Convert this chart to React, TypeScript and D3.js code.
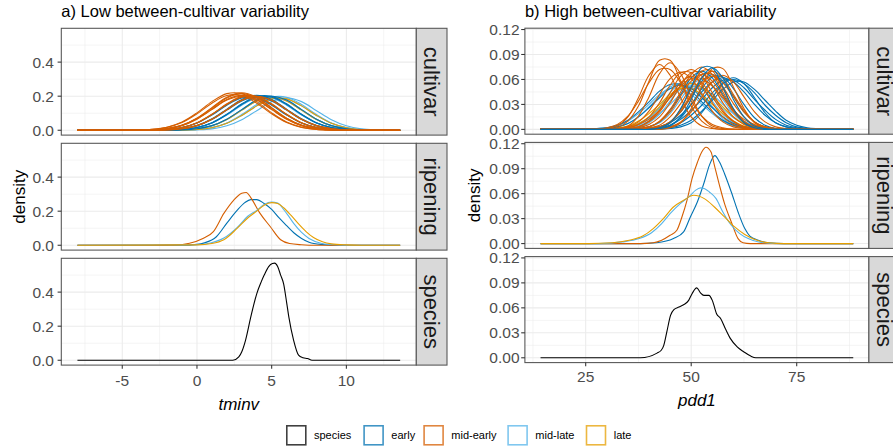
import React from "react";
import * as d3 from "d3";

const FONT = '"Liberation Sans", Arial, Helvetica, sans-serif';

// ---------- categories / labels ----------
const CLASSES = ["species", "early", "mid-early", "mid-late", "late"];
const CLASS_COLORS = ["#000000", "#0072B2", "#D55E00", "#56B4E9", "#E69F00"];
const STRIP_LABELS = ["cultivar", "ripening", "species"];
const PLOT_TITLES = ["a) Low between-cultivar variability", "b) High between-cultivar variability"];
const X_TITLES = ["tminv", "pdd1"];
const Y_TITLE = "density";
const LEFT_X_TICKS = [-5, 0, 5, 10];
const LEFT_Y_TICKS = [0, 0.2, 0.4];
const RIGHT_X_TICKS = [25, 50, 75];
const RIGHT_Y_TICKS = [0, 0.03, 0.06, 0.09, 0.12];

// ---------- a) tminv : cultivar densities (evaluated on LEFT_GRID) ----------
const LEFT_GRID = [-8, -4, -3, -2, -1, 0, 1, 2, 3, 4, 5, 6, 7, 8, 9, 10, 11, 12, 13.6];
const L_CV_MIDLATE = [
  [0, 0, 0, .001, .005, .016, .043, .092, .151, .194, .194, .151, .092, .043, .016, .005, .001, 0, 0],
  [0, 0, 0, 0, .002, .009, .026, .063, .118, .172, .195, .172, .118, .063, .026, .009, .002, 0, 0],
  [0, 0, 0, 0, .001, .004, .015, .041, .087, .143, .184, .184, .143, .087, .041, .015, .004, .001, 0],
  [0, 0, 0, 0, .002, .009, .027, .065, .121, .177, .2, .177, .121, .065, .027, .009, .002, 0, 0],
  [0, 0, 0, .001, .004, .016, .042, .089, .147, .189, .189, .147, .089, .042, .016, .004, .001, 0, 0],
  [0, 0, 0, 0, .001, .005, .016, .043, .092, .151, .194, .194, .151, .092, .043, .016, .005, .001, 0],
  [0, 0, 0, 0, 0, .002, .008, .026, .062, .115, .168, .19, .168, .115, .062, .026, .008, .002, 0],
  [0, 0, 0, .002, .009, .027, .065, .121, .177, .2, .177, .121, .065, .027, .009, .002, 0, 0, 0],
];
const L_CV_LATE = [
  [0, 0, 0, 0, .002, .009, .026, .063, .118, .172, .195, .172, .118, .063, .026, .009, .002, 0, 0],
  [0, 0, 0, 0, .001, .004, .015, .041, .087, .143, .184, .184, .143, .087, .041, .015, .004, .001, 0],
];
const L_CV_EARLY = [
  [0, 0, 0, .002, .009, .028, .067, .124, .181, .205, .181, .124, .067, .028, .009, .002, 0, 0, 0],
  [0, 0, 0, .001, .005, .016, .043, .092, .151, .194, .194, .151, .092, .043, .016, .005, .001, 0, 0],
  [0, 0, .001, .005, .016, .043, .092, .151, .194, .194, .151, .092, .043, .016, .005, .001, 0, 0, 0],
  [0, 0, 0, .002, .009, .026, .063, .118, .172, .195, .172, .118, .063, .026, .009, .002, 0, 0, 0],
  [0, 0, 0, 0, .002, .009, .027, .065, .121, .177, .2, .177, .121, .065, .027, .009, .002, 0, 0],
  [0, 0, 0, .001, .005, .016, .044, .094, .155, .199, .199, .155, .094, .044, .016, .005, .001, 0, 0],
  [0, 0, .001, .004, .016, .042, .089, .147, .189, .189, .147, .089, .042, .016, .004, .001, 0, 0, 0],
];
const L_CV_MIDEARLY = [
  [0, .001, .005, .018, .048, .102, .168, .215, .215, .168, .102, .048, .018, .005, .001, 0, 0, 0, 0],
  [0, 0, .002, .009, .029, .07, .13, .19, .215, .19, .13, .07, .029, .009, .002, 0, 0, 0, 0],
  [0, .001, .005, .017, .045, .096, .159, .204, .204, .159, .096, .045, .017, .005, .001, 0, 0, 0, 0],
  [0, 0, .002, .009, .028, .067, .124, .181, .205, .181, .124, .067, .028, .009, .002, 0, 0, 0, 0],
  [0, 0, .001, .005, .016, .043, .092, .151, .194, .194, .151, .092, .043, .016, .005, .001, 0, 0, 0],
  [0, 0, 0, .002, .009, .027, .064, .12, .175, .198, .175, .12, .064, .027, .009, .002, 0, 0, 0],
  [0, 0, .001, .005, .016, .044, .094, .155, .199, .199, .155, .094, .044, .016, .005, .001, 0, 0, 0],
  [0, 0, .002, .009, .027, .065, .121, .177, .2, .177, .121, .065, .027, .009, .002, 0, 0, 0, 0],
  [0, 0, .002, .01, .03, .071, .133, .194, .22, .194, .133, .071, .03, .01, .002, 0, 0, 0, 0],
  [0, 0, 0, .002, .009, .027, .065, .121, .177, .2, .177, .121, .065, .027, .009, .002, 0, 0, 0],
];

// ---------- a) ripening & species ----------
const L_RIP_EARLY_X = [-8, -1, 0, 0.5, 1.3, 2.0, 2.7, 3.2, 3.6, 4.0, 4.5, 5.0, 5.5, 6.0, 6.5, 7.0, 7.5, 8.3, 9.5, 13.6];
const L_RIP_EARLY_Y = [0, 0, .005, .014, .05, .13, .206, .25, .268, .268, .245, .21, .16, .115, .072, .04, .018, .005, 0, 0];
const L_RIP_MIDEARLY_X = [-8, -3, -1.5, -0.5, 0.4, 1.1, 1.8, 2.45, 3.0, 3.3, 3.6, 4.2, 4.9, 5.6, 6.2, 7, 8, 13.6];
const L_RIP_MIDEARLY_Y = [0, 0, .002, .012, .04, .08, .187, .264, .305, .31, .28, .19, .11, .032, .01, .003, 0, 0];
const L_RIP_MIDLATE_X = [-8, 0, 0.9, 1.8, 2.7, 3.4, 4.0, 4.5, 5.0, 5.4, 5.8, 6.1, 6.5, 7.0, 7.5, 8.3, 9, 10, 13.6];
const L_RIP_MIDLATE_Y = [0, .003, .013, .042, .105, .17, .205, .24, .254, .248, .21, .175, .125, .075, .04, .012, .004, 0, 0];
const L_RIP_LATE_X = [-8, 0, 1, 1.8, 2.7, 3.4, 4.0, 4.5, 5.0, 5.4, 5.8, 6.3, 6.8, 7.3, 7.8, 8.4, 9.0, 10, 11, 13.6];
const L_RIP_LATE_Y = [0, .002, .01, .032, .1, .16, .2, .235, .25, .245, .22, .175, .125, .08, .045, .02, .008, .002, 0, 0];
const L_SPECIES_X = [-8, 2.4, 2.8, 3.0, 3.25, 3.6, 4.0, 4.3, 4.5, 4.8, 5.05, 5.2, 5.4, 5.6, 5.8, 6.0, 6.15, 6.47, 6.8, 7.1, 7.4, 7.7, 13.6];
const L_SPECIES_Y = [0, 0, .02, .05, .117, .253, .39, .46, .5, .55, .568, .57, .55, .5, .448, .34, .253, .117, .03, .015, .01, 0, 0];

// ---------- b) pdd1 : cultivar densities (evaluated on RIGHT_GRID) ----------
const RIGHT_GRID = [14.3, 25, 27.5, 30, 32.5, 35, 37.5, 40, 42.5, 45, 47.5, 50, 52.5, 55, 57.5, 60, 62.5, 65, 67.5, 70, 72.5, 75, 77.5, 80, 88.4];
const R_CV_MIDLATE = [
  [0, 0, 0, .001, .003, .007, .015, .027, .04, .051, .055, .051, .04, .027, .015, .007, .003, .001, 0, 0, 0, 0, 0, 0, 0],
  [0, 0, 0, 0, .001, .003, .007, .014, .025, .038, .048, .052, .048, .038, .025, .014, .007, .003, .001, 0, 0, 0, 0, 0, 0],
  [0, 0, 0, 0, 0, .001, .005, .013, .027, .044, .056, .056, .044, .027, .013, .005, .001, 0, 0, 0, 0, 0, 0, 0, 0],
  [0, 0, 0, 0, .001, .002, .004, .01, .019, .03, .042, .049, .049, .042, .03, .019, .01, .004, .002, .001, 0, 0, 0, 0, 0],
  [0, 0, .001, .002, .004, .01, .019, .03, .042, .049, .049, .042, .03, .019, .01, .004, .002, .001, 0, 0, 0, 0, 0, 0, 0],
  [0, 0, 0, 0, 0, 0, .001, .003, .008, .019, .036, .053, .06, .053, .036, .019, .008, .003, .001, 0, 0, 0, 0, 0, 0],
  [0, 0, 0, 0, 0, .001, .002, .008, .018, .034, .049, .056, .049, .034, .018, .008, .002, .001, 0, 0, 0, 0, 0, 0, 0],
];
const R_CV_LATE = [
  [0, 0, 0, 0, .001, .003, .007, .015, .027, .04, .051, .055, .051, .04, .027, .015, .007, .003, .001, 0, 0, 0, 0, 0, 0],
  [0, 0, 0, .001, .002, .004, .01, .019, .03, .042, .049, .049, .042, .03, .019, .01, .004, .002, .001, 0, 0, 0, 0, 0, 0],
];
const R_CV_EARLY = [
  [0, 0, .001, .002, .005, .011, .021, .033, .046, .054, .054, .046, .033, .021, .011, .005, .002, .001, 0, 0, 0, 0, 0, 0, 0],
  [0, 0, 0, .001, .003, .007, .015, .026, .038, .049, .053, .049, .038, .026, .015, .007, .003, .001, 0, 0, 0, 0, 0, 0, 0],
  [0, 0, 0, 0, 0, 0, 0, .001, .003, .008, .017, .03, .045, .057, .062, .057, .045, .03, .017, .008, .003, .001, 0, 0, 0],
  [0, 0, 0, 0, 0, 0, 0, .001, .002, .005, .012, .023, .036, .05, .059, .059, .05, .036, .023, .012, .005, .002, .001, 0, 0],
  [0, 0, 0, 0, 0, 0, 0, 0, .001, .003, .008, .017, .029, .044, .055, .06, .055, .044, .029, .017, .008, .003, .001, 0, 0],
  [0, 0, 0, 0, 0, 0, 0, 0, .001, .002, .005, .011, .022, .035, .048, .057, .057, .048, .035, .022, .011, .005, .002, .001, 0],
  [0, 0, 0, 0, 0, 0, 0, 0, .001, .005, .014, .03, .049, .063, .063, .049, .03, .014, .005, .001, 0, 0, 0, 0, 0],
  [0, 0, 0, 0, 0, 0, .001, .003, .009, .023, .042, .062, .07, .062, .042, .023, .009, .003, .001, 0, 0, 0, 0, 0, 0],
  [0, 0, 0, 0, 0, 0, 0, .001, .003, .009, .021, .04, .058, .066, .058, .04, .021, .009, .003, .001, 0, 0, 0, 0, 0],
  [0, 0, 0, 0, 0, 0, 0, 0, 0, .001, .003, .008, .02, .038, .055, .062, .055, .038, .02, .008, .003, .001, 0, 0, 0],
];
const R_CV_MIDEARLY = [
  [0, 0, 0, 0, .002, .01, .028, .058, .083, .083, .058, .028, .01, .002, 0, 0, 0, 0, 0, 0, 0, 0, 0, 0, 0],
  [0, 0, 0, .001, .004, .015, .038, .065, .078, .065, .038, .015, .004, .001, 0, 0, 0, 0, 0, 0, 0, 0, 0, 0, 0],
  [0, 0, 0, 0, .001, .004, .016, .039, .067, .08, .067, .039, .016, .004, .001, 0, 0, 0, 0, 0, 0, 0, 0, 0, 0],
  [0, 0, 0, .002, .006, .016, .034, .056, .072, .072, .056, .034, .016, .006, .002, 0, 0, 0, 0, 0, 0, 0, 0, 0, 0],
  [0, 0, 0, 0, .001, .003, .009, .022, .042, .061, .069, .061, .042, .022, .009, .003, .001, 0, 0, 0, 0, 0, 0, 0, 0],
  [0, 0, 0, 0, 0, .001, .003, .01, .023, .044, .064, .072, .064, .044, .023, .01, .003, .001, 0, 0, 0, 0, 0, 0, 0],
  [0, 0, 0, 0, 0, 0, .002, .006, .015, .032, .053, .068, .068, .053, .032, .015, .006, .002, 0, 0, 0, 0, 0, 0, 0],
  [0, 0, 0, 0, 0, 0, .001, .003, .01, .024, .045, .066, .075, .066, .045, .024, .01, .003, .001, 0, 0, 0, 0, 0, 0],
  [0, 0, 0, 0, 0, 0, 0, .002, .005, .015, .031, .051, .066, .066, .051, .031, .015, .005, .002, 0, 0, 0, 0, 0, 0],
  [0, 0, 0, 0, 0, 0, 0, .001, .003, .009, .023, .042, .062, .07, .062, .042, .023, .009, .003, .001, 0, 0, 0, 0, 0],
  [0, 0, 0, 0, 0, 0, 0, 0, 0, .002, .008, .025, .051, .073, .073, .051, .025, .008, .002, 0, 0, 0, 0, 0, 0],
  [0, 0, 0, 0, 0, 0, 0, .001, .003, .009, .021, .039, .056, .064, .056, .039, .021, .009, .003, .001, 0, 0, 0, 0, 0],
  [0, 0, 0, 0, 0, 0, .001, .003, .009, .021, .04, .058, .066, .058, .04, .021, .009, .003, .001, 0, 0, 0, 0, 0, 0],
  [0, 0, 0, 0, 0, 0, 0, 0, .001, .003, .009, .021, .039, .057, .065, .057, .039, .021, .009, .003, .001, 0, 0, 0, 0],
  [0, 0, 0, 0, 0, .001, .003, .009, .021, .039, .056, .064, .056, .039, .021, .009, .003, .001, 0, 0, 0, 0, 0, 0, 0],
  [0, 0, 0, 0, 0, 0, 0, 0, .002, .008, .024, .049, .07, .07, .049, .024, .008, .002, 0, 0, 0, 0, 0, 0, 0],
  [0, 0, 0, 0, 0, .002, .006, .015, .032, .053, .068, .068, .053, .032, .015, .006, .002, 0, 0, 0, 0, 0, 0, 0, 0],
  [0, 0, 0, 0, .001, .002, .006, .012, .023, .038, .052, .061, .061, .052, .038, .023, .012, .006, .002, .001, 0, 0, 0, 0, 0],
];
const R_CV_EARLY_TOP = [
  [0, 0, 0, 0, 0, 0, 0, 0, .002, .008, .025, .051, .074, .074, .051, .025, .008, .002, 0, 0, 0, 0, 0, 0, 0],
  [0, 0, 0, 0, 0, 0, 0, 0, .001, .004, .015, .036, .062, .074, .062, .036, .015, .004, .001, 0, 0, 0, 0, 0, 0],
];

// ---------- b) ripening & species ----------
const R_RIP_EARLY_X = [14.3, 38, 41.8, 45.8, 48.2, 49.8, 51.45, 53.1, 54.3, 55.6, 56.7, 57.9, 59.5, 61.1, 62.7, 63.9, 65.9, 68.4, 72, 88.4];
const R_RIP_EARLY_Y = [0, 0, .001, .006, .014, .032, .05, .074, .094, .1057, .098, .084, .062, .038, .018, .009, .004, .001, 0, 0];
const R_RIP_MIDEARLY_X = [14.3, 38, 41, 43, 45, 46.6, 47.8, 49, 50.2, 51.5, 52.5, 53.5, 54.7, 55.5, 56.7, 57.9, 59.5, 61.1, 62.3, 64, 88.4];
const R_RIP_MIDEARLY_Y = [0, 0, .001, .004, .01, .016, .032, .052, .078, .098, .11, .1158, .11, .094, .07, .048, .026, .006, .001, 0, 0];
const R_RIP_MIDLATE_X = [14.3, 28, 33.7, 37.7, 40.6, 43, 45, 47.4, 49.8, 51, 52.25, 53.2, 54.3, 55.9, 57.5, 59.5, 61.5, 63.5, 66, 70, 88.4];
const R_RIP_MIDLATE_Y = [0, 0, .002, .006, .013, .024, .036, .048, .058, .064, .067, .066, .062, .054, .038, .022, .012, .006, .002, 0, 0];
const R_RIP_LATE_X = [14.3, 25.7, 31.3, 35.3, 38.5, 41, 43.4, 45.8, 48.2, 50.6, 53.1, 55.5, 57.9, 60.3, 62.7, 65.1, 68.4, 72, 88.4];
const R_RIP_LATE_Y = [0, 0, .001, .004, .009, .018, .03, .044, .052, .058, .054, .044, .032, .02, .011, .005, .001, 0, 0];
const R_SPECIES_X = [14.3, 38, 41.9, 42.9, 43.5, 44.3, 45.1, 45.9, 47.1, 48.3, 49.4, 50.2, 51.3, 52.2, 53.0, 54.2, 55.0, 56.0, 57.0, 58.1, 59.3, 60.9, 62.5, 64.1, 65.3, 88.4];
const R_SPECIES_Y = [0, 0, .0056, .009, .015, .033, .051, .058, .061, .064, .069, .077, .084, .078, .075, .075, .069, .053, .047, .035, .023, .013, .007, .002, 0, 0];

// ---------- helpers ----------
type Series = { x: number[]; y: number[]; color: string };
const colorOf = (c: string) => CLASS_COLORS[CLASSES.indexOf(c)];
const cv = (grid: number[], rows: number[][], cls: string): Series[] =>
  rows.map((y) => ({ x: grid, y, color: colorOf(cls) }));
const one = (x: number[], y: number[], cls: string): Series => ({ x, y, color: colorOf(cls) });

const GRID_COL = "#EBEBEB";
const DARK = "#333333";
const BORDER = "#555555";
const TICK_TXT = "#4D4D4D";

type ColProps = {
  x0: number; x1: number; tops: number[]; ph: number; stripW: number;
  panels: Series[][]; curves: any[];
  xTicks: number[]; yTicks: number[]; yDigits: number;
  title: string; xTitle: string;
  yLabelEnd: number; densityX: number; xLabelY: number; xTitleY: number;
};

function Column(p: ColProps) {
  const all = p.panels.flat();
  const [xmin, xmax] = d3.extent(all.flatMap((s) => s.x)) as [number, number];
  const ymax = d3.max(all.flatMap((s) => s.y)) as number;
  const xpad = (xmax - xmin) * 0.05;
  const xDom: [number, number] = [xmin - xpad, xmax + xpad];
  const x = d3.scaleLinear().domain(xDom).range([p.x0, p.x1]);
  const yDom: [number, number] = [-0.05 * ymax, 1.05 * ymax];
  const xs = p.xTicks[1] - p.xTicks[0];
  const xMinor = d3.range(p.xTicks[0] - xs * 10 - xs / 2, xDom[1], xs).filter((v) => v >= xDom[0] && v <= xDom[1]);
  const ys = p.yTicks[1] - p.yTicks[0];
  const yMinor = d3.range(p.yTicks[0] - ys / 2, yDom[1], ys).filter((v) => v >= yDom[0] && v <= yDom[1]);
  const fmt = d3.format(`.${p.yDigits}f`);
  const last = p.panels.length - 1;
  const midPanel = p.tops[1] + p.ph / 2;

  return (
    <g>
      <text x={p.x0} y={17} fontSize={16.5} fill="#000">{p.title}</text>
      {p.panels.map((series, pi) => {
        const top = p.tops[pi];
        const bot = top + p.ph;
        const y = d3.scaleLinear().domain(yDom).range([bot, top]);
        const line = d3.line<number>().curve(p.curves[pi]);
        return (
          <g key={pi}>
            <rect x={p.x0} y={top} width={p.x1 - p.x0} height={p.ph} fill="#fff" />
            {yMinor.map((v) => (
              <line key={"ym" + v} x1={p.x0} x2={p.x1} y1={y(v)} y2={y(v)} stroke={GRID_COL} strokeWidth={0.55} />
            ))}
            {xMinor.map((v) => (
              <line key={"xm" + v} x1={x(v)} x2={x(v)} y1={top} y2={bot} stroke={GRID_COL} strokeWidth={0.55} />
            ))}
            {p.yTicks.map((v) => (
              <line key={"yg" + v} x1={p.x0} x2={p.x1} y1={y(v)} y2={y(v)} stroke={GRID_COL} strokeWidth={1.07} />
            ))}
            {p.xTicks.map((v) => (
              <line key={"xg" + v} x1={x(v)} x2={x(v)} y1={top} y2={bot} stroke={GRID_COL} strokeWidth={1.07} />
            ))}
            {series.map((s, si) => {
              const d = line
                .x((_, i) => x(s.x[i]))
                .y((v) => y(v))(s.y);
              return <path key={si} d={d || ""} fill="none" stroke={s.color} strokeWidth={1.1} strokeLinejoin="round" />;
            })}
            <rect x={p.x0} y={top} width={p.x1 - p.x0} height={p.ph} fill="none" stroke={BORDER} strokeWidth={1.07} />
            <rect x={p.x1} y={top} width={p.stripW} height={p.ph} fill="#D9D9D9" stroke={BORDER} strokeWidth={1.07} />
            <text
              transform={`translate(${p.x1 + p.stripW / 2},${top + p.ph / 2}) rotate(90)`}
              textAnchor="middle" dominantBaseline="central" fontSize={22} fill="#1A1A1A"
            >{STRIP_LABELS[pi]}</text>
            {p.yTicks.map((v) => (
              <g key={"yt" + v}>
                <line x1={p.x0 - 3.7} x2={p.x0} y1={y(v)} y2={y(v)} stroke={DARK} strokeWidth={1.07} />
                <text x={p.yLabelEnd} y={y(v)} textAnchor="end" dominantBaseline="central" fontSize={15.5} fill={TICK_TXT}>{fmt(v)}</text>
              </g>
            ))}
            {pi === last && p.xTicks.map((v) => (
              <g key={"xt" + v}>
                <line x1={x(v)} x2={x(v)} y1={bot} y2={bot + 3.7} stroke={DARK} strokeWidth={1.07} />
                <text x={x(v)} y={p.xLabelY} textAnchor="middle" fontSize={15.5} fill={TICK_TXT}>{String(v)}</text>
              </g>
            ))}
          </g>
        );
      })}
      <text transform={`translate(${p.densityX},${midPanel}) rotate(-90)`} textAnchor="middle" fontSize={17} fill="#000">{Y_TITLE}</text>
      <text x={(p.x0 + p.x1) / 2} y={p.xTitleY} textAnchor="middle" fontSize={17} fontStyle="italic" fill="#000">{p.xTitle}</text>
    </g>
  );
}

const LEGEND_KEY_X = [286, 363.3, 423.3, 507.3, 585.7];

export default function App() {
  const cvCurve = d3.curveCatmullRom.alpha(0.5);
  const smooth = d3.curveMonotoneX;

  const leftPanels: Series[][] = [
    [
      ...cv(LEFT_GRID, L_CV_MIDLATE, "mid-late"),
      ...cv(LEFT_GRID, L_CV_LATE, "late"),
      ...cv(LEFT_GRID, L_CV_EARLY, "early"),
      ...cv(LEFT_GRID, L_CV_MIDEARLY, "mid-early"),
    ],
    [
      one(L_RIP_EARLY_X, L_RIP_EARLY_Y, "early"),
      one(L_RIP_MIDEARLY_X, L_RIP_MIDEARLY_Y, "mid-early"),
      one(L_RIP_MIDLATE_X, L_RIP_MIDLATE_Y, "mid-late"),
      one(L_RIP_LATE_X, L_RIP_LATE_Y, "late"),
    ],
    [one(L_SPECIES_X, L_SPECIES_Y, "species")],
  ];
  const rightPanels: Series[][] = [
    [
      ...cv(RIGHT_GRID, R_CV_MIDLATE, "mid-late"),
      ...cv(RIGHT_GRID, R_CV_LATE, "late"),
      ...cv(RIGHT_GRID, R_CV_EARLY, "early"),
      ...cv(RIGHT_GRID, R_CV_MIDEARLY, "mid-early"),
      ...cv(RIGHT_GRID, R_CV_EARLY_TOP, "early"),
    ],
    [
      one(R_RIP_EARLY_X, R_RIP_EARLY_Y, "early"),
      one(R_RIP_MIDEARLY_X, R_RIP_MIDEARLY_Y, "mid-early"),
      one(R_RIP_MIDLATE_X, R_RIP_MIDLATE_Y, "mid-late"),
      one(R_RIP_LATE_X, R_RIP_LATE_Y, "late"),
    ],
    [one(R_SPECIES_X, R_SPECIES_Y, "species")],
  ];

  return (
    <svg width={893} height={448} style={{ position: "absolute", left: 0, top: 0, background: "#fff" }} fontFamily={FONT}>
      <rect width={893} height={448} fill="#fff" />
      <Column
        x0={61.3} x1={416.3} tops={[28.3, 143.3, 258.3]} ph={106.8} stripW={30.7}
        panels={leftPanels} curves={[cvCurve, smooth, smooth]}
        xTicks={LEFT_X_TICKS} yTicks={LEFT_Y_TICKS} yDigits={1}
        title={PLOT_TITLES[0]} xTitle={X_TITLES[0]}
        yLabelEnd={54} densityX={25} xLabelY={386} xTitleY={410}
      />
      <Column
        x0={524.9} x1={868.9} tops={[28.2, 142.4, 256.6]} ph={106} stripW={30.7}
        panels={rightPanels} curves={[cvCurve, smooth, smooth]}
        xTicks={RIGHT_X_TICKS} yTicks={RIGHT_Y_TICKS} yDigits={2}
        title={PLOT_TITLES[1]} xTitle={X_TITLES[1]}
        yLabelEnd={519.5} densityX={480} xLabelY={381.7} xTitleY={406}
      />
      <g>
        {CLASSES.map((c, i) => (
          <g key={c}>
            <rect x={LEGEND_KEY_X[i] + 0.8} y={425.8} width={19} height={19} fill="#fff" stroke={CLASS_COLORS[i]} strokeOpacity={0.75} strokeWidth={1.6} />
            <text x={LEGEND_KEY_X[i] + 28} y={439} fontSize={11} fill="#000">{c}</text>
          </g>
        ))}
      </g>
    </svg>
  );
}
